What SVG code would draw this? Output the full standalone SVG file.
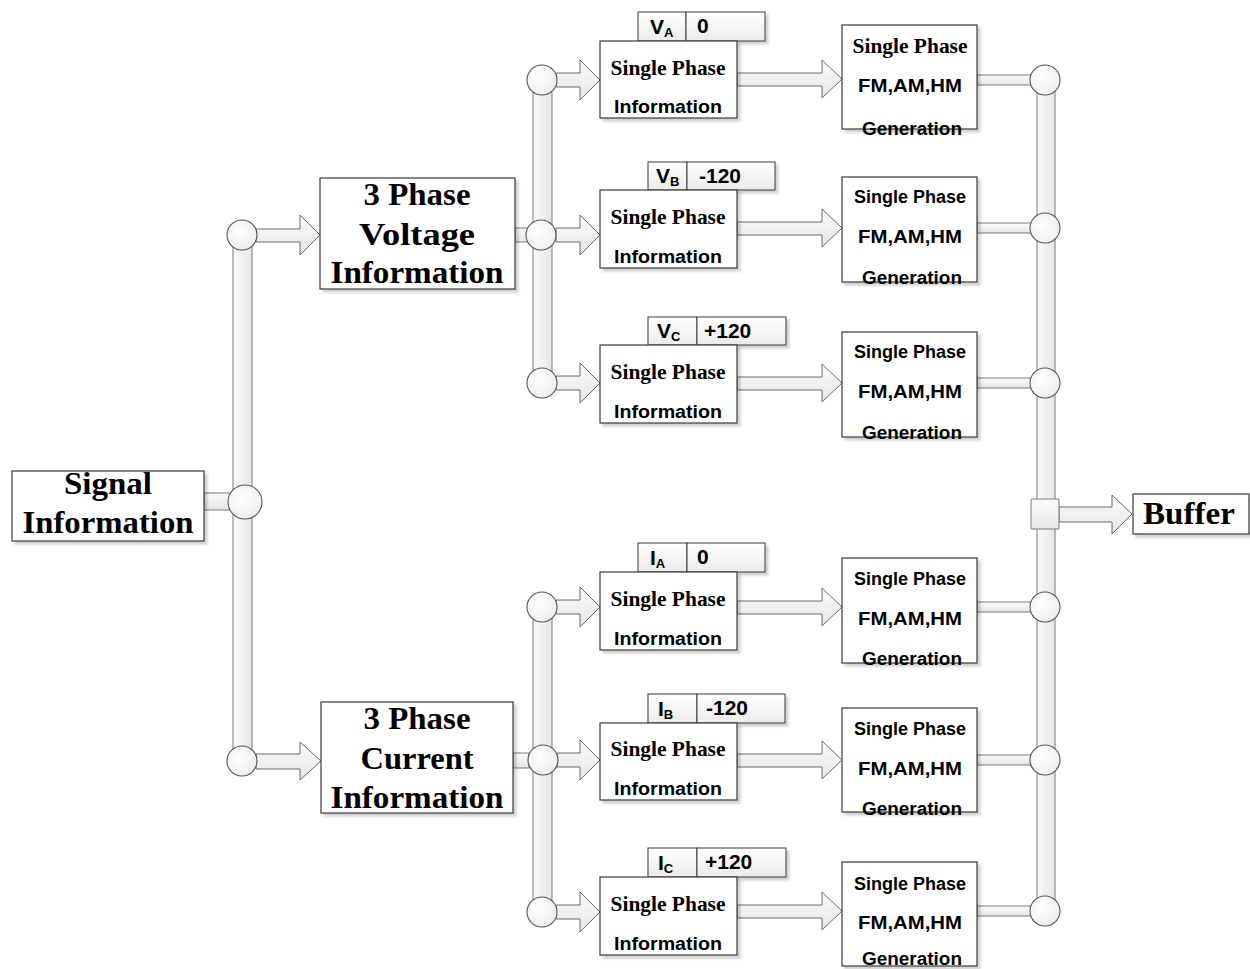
<svg xmlns="http://www.w3.org/2000/svg" width="1250" height="969" viewBox="0 0 1250 969">
<defs>
<filter id="sh" x="-10%" y="-10%" width="130%" height="130%"><feDropShadow dx="3" dy="3" stdDeviation="1.2" flood-color="#000" flood-opacity="0.18"/></filter>
<linearGradient id="vbus" x1="0" y1="0" x2="1" y2="0"><stop offset="0" stop-color="#fafafa"/><stop offset="1" stop-color="#e6e6e6"/></linearGradient>
<linearGradient id="hbus" x1="0" y1="0" x2="0" y2="1"><stop offset="0" stop-color="#fafafa"/><stop offset="1" stop-color="#e6e6e6"/></linearGradient>
<radialGradient id="cg" cx="0.4" cy="0.4" r="0.7"><stop offset="0" stop-color="#ffffff"/><stop offset="1" stop-color="#ececec"/></radialGradient>
<linearGradient id="lg" x1="0" y1="0" x2="0" y2="1"><stop offset="0" stop-color="#ffffff"/><stop offset="1" stop-color="#ebebeb"/></linearGradient>
</defs>
<style>
.box{fill:#fff;stroke:#3a3a3a;stroke-width:1.2;filter:url(#sh)}
.lab{fill:url(#lg);stroke:#3a3a3a;stroke-width:1;filter:url(#sh)}
.vb{fill:url(#vbus);stroke:#7a7a7a;stroke-width:1}
.hb{fill:url(#hbus);stroke:#7a7a7a;stroke-width:1}
.arr{fill:url(#hbus);stroke:#6a6a6a;stroke-width:1;stroke-linejoin:miter}
.cir{fill:url(#cg);stroke:#555;stroke-width:1.1}
.big{font-family:"Liberation Serif",serif;font-weight:bold;font-size:32px;text-anchor:middle;fill:#000}
.sp{font-family:"Liberation Serif",serif;font-weight:bold;font-size:21px;text-anchor:middle;fill:#000}
.cal{font-family:"Liberation Sans",sans-serif;font-weight:bold;font-size:18px;text-anchor:middle;fill:#000}
.lt{font-family:"Liberation Sans",sans-serif;font-weight:bold;font-size:21px;fill:#000}
.sub{font-size:13px}
</style>
<rect width="1250" height="969" fill="#fff"/>

<g id="connectors">
  <rect class="vb" x="233" y="235" width="19" height="525"/>
  <rect class="vb" x="533" y="80" width="19" height="303"/>
  <rect class="vb" x="533" y="607" width="19" height="305"/>
  <rect class="vb" x="1037" y="80" width="18" height="831"/>
  <rect class="hb" x="204" y="493" width="28" height="17"/>
  <rect class="hb" x="515" y="228" width="14" height="14"/>
  <rect class="hb" x="513" y="753" width="16" height="15"/>
  <rect class="hb" x="977" y="75" width="55" height="10"/>
  <rect class="hb" x="977" y="223" width="55" height="10"/>
  <rect class="hb" x="977" y="378" width="55" height="10"/>
  <rect class="hb" x="977" y="602" width="55" height="10"/>
  <rect class="hb" x="977" y="755" width="55" height="10"/>
  <rect class="hb" x="977" y="906" width="55" height="10"/>
  <polygon class="arr" points="256,229 300,229 300,215 320,235 300,255 300,242 256,242"/>
  <polygon class="arr" points="256,754 300,754 300,742 321,761 300,780 300,769 256,769"/>
  <polygon class="arr" points="556,73 580,73 580,60 600,80 580,100 580,87 556,87"/>
  <polygon class="arr" points="556,228 580,228 580,215 600,235 580,255 580,242 556,242"/>
  <polygon class="arr" points="556,376 580,376 580,363 600,383 580,403 580,390 556,390"/>
  <polygon class="arr" points="556,600 580,600 580,587 600,607 580,627 580,614 556,614"/>
  <polygon class="arr" points="557,753 580,753 580,740 600,760 580,780 580,767 557,767"/>
  <polygon class="arr" points="556,905 580,905 580,892 600,912 580,932 580,919 556,919"/>
  <polygon class="arr" points="737,73 822,73 822,60 842,79 822,98 822,86 737,86"/>
  <polygon class="arr" points="737,222 822,222 822,209 842,228 822,247 822,235 737,235"/>
  <polygon class="arr" points="737,377 822,377 822,364 842,383 822,402 822,390 737,390"/>
  <polygon class="arr" points="737,601 822,601 822,588 842,607 822,626 822,614 737,614"/>
  <polygon class="arr" points="737,754 822,754 822,741 842,760 822,779 822,767 737,767"/>
  <polygon class="arr" points="737,905 822,905 822,892 842,911 822,930 822,918 737,918"/>
  <polygon class="arr" points="1059,507 1112,507 1112,495 1132,514 1112,534 1112,522 1059,522"/>
  <circle class="cir" cx="245" cy="502" r="17"/>
  <circle class="cir" cx="242" cy="235" r="15"/>
  <circle class="cir" cx="242" cy="761" r="15"/>
  <circle class="cir" cx="542" cy="80" r="15"/>
  <circle class="cir" cx="541" cy="235" r="15"/>
  <circle class="cir" cx="542" cy="383" r="15"/>
  <circle class="cir" cx="542" cy="607" r="15"/>
  <circle class="cir" cx="543" cy="760" r="15"/>
  <circle class="cir" cx="542" cy="912" r="15"/>
  <circle class="cir" cx="1045" cy="80" r="15"/>
  <circle class="cir" cx="1045" cy="228" r="15"/>
  <circle class="cir" cx="1045" cy="383" r="15"/>
  <circle class="cir" cx="1045" cy="607" r="15"/>
  <circle class="cir" cx="1045" cy="760" r="15"/>
  <circle class="cir" cx="1045" cy="911" r="15"/>
  <rect class="hb" x="1031" y="499" width="28" height="30" rx="1"/>
</g>

<g id="signal-info">
  <rect class="box" x="12" y="471" width="192" height="70"/>
  <text class="big" x="108" y="494" textLength="88" lengthAdjust="spacingAndGlyphs">Signal</text>
  <text class="big" x="108" y="533" textLength="171" lengthAdjust="spacingAndGlyphs">Information</text>
</g>

<g id="voltage-info">
  <rect class="box" x="320" y="178" width="195" height="111"/>
  <text class="big" x="417" y="205" textLength="107" lengthAdjust="spacingAndGlyphs">3 Phase</text>
  <text class="big" x="417" y="245" textLength="116" lengthAdjust="spacingAndGlyphs">Voltage</text>
  <text class="big" x="417" y="283" textLength="173" lengthAdjust="spacingAndGlyphs">Information</text>
</g>

<g id="current-info">
  <rect class="box" x="321" y="702" width="192" height="111"/>
  <text class="big" x="417" y="729" textLength="107" lengthAdjust="spacingAndGlyphs">3 Phase</text>
  <text class="big" x="417" y="769" textLength="113" lengthAdjust="spacingAndGlyphs">Current</text>
  <text class="big" x="417" y="808" textLength="173" lengthAdjust="spacingAndGlyphs">Information</text>
</g>

<g id="va-label">
  <rect class="lab" x="638" y="12" width="48" height="29"/>
  <rect class="lab" x="686" y="12" width="79" height="29"/>
  <text class="lt" x="650" y="34">V<tspan class="sub" dy="3">A</tspan></text>
  <text class="lt" x="697" y="33">0</text>
</g>
<g id="va-info">
  <rect class="box" x="600" y="41" width="137" height="77"/>
  <text class="sp" x="668" y="75" textLength="115" lengthAdjust="spacingAndGlyphs">Single Phase</text>
  <text class="cal" x="668" y="113" textLength="108" lengthAdjust="spacingAndGlyphs">Information</text>
</g>
<g id="va-gen">
  <rect class="box" x="842" y="25" width="135" height="104"/>
  <text class="sp" x="910" y="53" textLength="115" lengthAdjust="spacingAndGlyphs">Single Phase</text>
  <text class="cal" x="910" y="92" textLength="104" lengthAdjust="spacingAndGlyphs">FM,AM,HM</text>
  <text class="cal" x="912" y="135" textLength="100" lengthAdjust="spacingAndGlyphs">Generation</text>
</g>

<g id="vb-label">
  <rect class="lab" x="648" y="162" width="39" height="28"/>
  <rect class="lab" x="687" y="162" width="88" height="28"/>
  <text class="lt" x="656" y="183">V<tspan class="sub" dy="3">B</tspan></text>
  <text class="lt" x="699" y="183">-120</text>
</g>
<g id="vb-info">
  <rect class="box" x="600" y="190" width="137" height="78"/>
  <text class="sp" x="668" y="224" textLength="115" lengthAdjust="spacingAndGlyphs">Single Phase</text>
  <text class="cal" x="668" y="263" textLength="108" lengthAdjust="spacingAndGlyphs">Information</text>
</g>
<g id="vb-gen">
  <rect class="box" x="842" y="177" width="135" height="105"/>
  <text class="cal" x="910" y="203">Single Phase</text>
  <text class="cal" x="910" y="243" textLength="104" lengthAdjust="spacingAndGlyphs">FM,AM,HM</text>
  <text class="cal" x="912" y="284" textLength="100" lengthAdjust="spacingAndGlyphs">Generation</text>
</g>

<g id="vc-label">
  <rect class="lab" x="648" y="317" width="49" height="28"/>
  <rect class="lab" x="697" y="317" width="89" height="28"/>
  <text class="lt" x="657" y="338">V<tspan class="sub" dy="3">C</tspan></text>
  <text class="lt" x="704" y="338">+120</text>
</g>
<g id="vc-info">
  <rect class="box" x="600" y="345" width="137" height="78"/>
  <text class="sp" x="668" y="379" textLength="115" lengthAdjust="spacingAndGlyphs">Single Phase</text>
  <text class="cal" x="668" y="418" textLength="108" lengthAdjust="spacingAndGlyphs">Information</text>
</g>
<g id="vc-gen">
  <rect class="box" x="842" y="332" width="135" height="105"/>
  <text class="cal" x="910" y="358">Single Phase</text>
  <text class="cal" x="910" y="398" textLength="104" lengthAdjust="spacingAndGlyphs">FM,AM,HM</text>
  <text class="cal" x="912" y="439" textLength="100" lengthAdjust="spacingAndGlyphs">Generation</text>
</g>

<g id="ia-label">
  <rect class="lab" x="638" y="543" width="49" height="29"/>
  <rect class="lab" x="687" y="543" width="78" height="29"/>
  <text class="lt" x="650" y="565">I<tspan class="sub" dy="3">A</tspan></text>
  <text class="lt" x="697" y="564">0</text>
</g>
<g id="ia-info">
  <rect class="box" x="600" y="572" width="137" height="78"/>
  <text class="sp" x="668" y="606" textLength="115" lengthAdjust="spacingAndGlyphs">Single Phase</text>
  <text class="cal" x="668" y="645" textLength="108" lengthAdjust="spacingAndGlyphs">Information</text>
</g>
<g id="ia-gen">
  <rect class="box" x="842" y="558" width="135" height="105"/>
  <text class="cal" x="910" y="585">Single Phase</text>
  <text class="cal" x="910" y="625" textLength="104" lengthAdjust="spacingAndGlyphs">FM,AM,HM</text>
  <text class="cal" x="912" y="665" textLength="100" lengthAdjust="spacingAndGlyphs">Generation</text>
</g>

<g id="ib-label">
  <rect class="lab" x="648" y="694" width="49" height="29"/>
  <rect class="lab" x="697" y="694" width="88" height="29"/>
  <text class="lt" x="658" y="716">I<tspan class="sub" dy="3">B</tspan></text>
  <text class="lt" x="706" y="715">-120</text>
</g>
<g id="ib-info">
  <rect class="box" x="600" y="723" width="137" height="77"/>
  <text class="sp" x="668" y="756" textLength="115" lengthAdjust="spacingAndGlyphs">Single Phase</text>
  <text class="cal" x="668" y="795" textLength="108" lengthAdjust="spacingAndGlyphs">Information</text>
</g>
<g id="ib-gen">
  <rect class="box" x="842" y="708" width="135" height="104"/>
  <text class="cal" x="910" y="735">Single Phase</text>
  <text class="cal" x="910" y="775" textLength="104" lengthAdjust="spacingAndGlyphs">FM,AM,HM</text>
  <text class="cal" x="912" y="815" textLength="100" lengthAdjust="spacingAndGlyphs">Generation</text>
</g>

<g id="ic-label">
  <rect class="lab" x="648" y="848" width="49" height="29"/>
  <rect class="lab" x="697" y="848" width="89" height="29"/>
  <text class="lt" x="658" y="870">I<tspan class="sub" dy="3">C</tspan></text>
  <text class="lt" x="705" y="869">+120</text>
</g>
<g id="ic-info">
  <rect class="box" x="600" y="877" width="137" height="78"/>
  <text class="sp" x="668" y="911" textLength="115" lengthAdjust="spacingAndGlyphs">Single Phase</text>
  <text class="cal" x="668" y="950" textLength="108" lengthAdjust="spacingAndGlyphs">Information</text>
</g>
<g id="ic-gen">
  <rect class="box" x="842" y="862" width="135" height="104"/>
  <text class="cal" x="910" y="890">Single Phase</text>
  <text class="cal" x="910" y="929" textLength="104" lengthAdjust="spacingAndGlyphs">FM,AM,HM</text>
  <text class="cal" x="912" y="965" textLength="100" lengthAdjust="spacingAndGlyphs">Generation</text>
</g>

<g id="buffer">
  <rect class="box" x="1133" y="494" width="116" height="40"/>
  <text class="big" x="1189" y="524" textLength="92" lengthAdjust="spacingAndGlyphs">Buffer</text>
</g>
</svg>
